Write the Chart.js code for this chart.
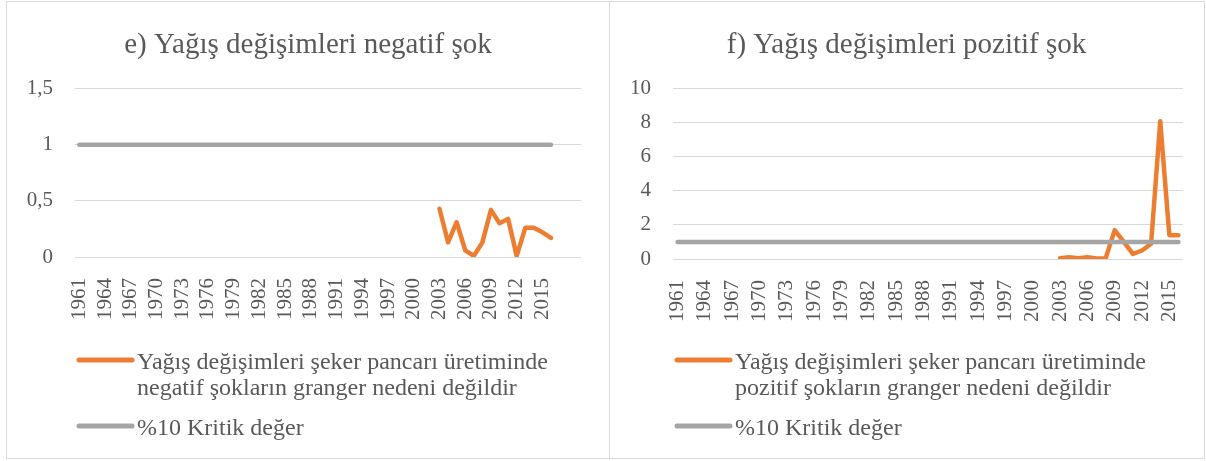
<!DOCTYPE html>
<html lang="tr">
<head>
<meta charset="UTF-8">
<title>Yağış değişimleri şok</title>
<script src="https://cdn.jsdelivr.net/npm/chart.js"></script>
<style>
  body { margin: 0; background: #ffffff; }
  .frame { position: absolute; left: 6px; top: 1px; width: 1197px; height: 456px; border: 1px solid #d9d9d9; }
  .divider { position: absolute; left: 609px; top: 1px; width: 1px; height: 458px; background: #d9d9d9; }
  .panel { position: absolute; top: 2px; height: 456px; }
  #p1 { left: 7px; width: 602px; }
  #p2 { left: 610px; width: 593px; }
</style>
</head>
<body>
<div class="frame"></div>
<div class="divider"></div>
<div class="panel" id="p1"><canvas id="negChart"></canvas></div>
<div class="panel" id="p2"><canvas id="posChart"></canvas></div>

<script>
  // years on the category axis
  const years = ['1961', '1962', '1963', '1964', '1965', '1966', '1967', '1968', '1969', '1970',
    '1971', '1972', '1973', '1974', '1975', '1976', '1977', '1978', '1979', '1980',
    '1981', '1982', '1983', '1984', '1985', '1986', '1987', '1988', '1989', '1990',
    '1991', '1992', '1993', '1994', '1995', '1996', '1997', '1998', '1999', '2000',
    '2001', '2002', '2003', '2004', '2005', '2006', '2007', '2008', '2009', '2010',
    '2011', '2012', '2013', '2014', '2015', '2016'];
  // the left panel has a few empty rows after 2016
  const emptyRows = ['', '', ''];

  // %10 critical value, one per year
  const criticalValue = [1, 1, 1, 1, 1, 1, 1, 1, 1, 1, 1, 1, 1, 1, 1, 1, 1, 1, 1, 1,
    1, 1, 1, 1, 1, 1, 1, 1, 1, 1, 1, 1, 1, 1, 1, 1, 1, 1, 1, 1,
    1, 1, 1, 1, 1, 1, 1, 1, 1, 1, 1, 1, 1, 1, 1, 1];

  // test statistics (only available from 2003)
  const testYears = ['2003', '2004', '2005', '2006', '2007', '2008', '2009', '2010',
    '2011', '2012', '2013', '2014', '2015', '2016'];
  const negShock = [0.43, 0.13, 0.31, 0.06, 0.01, 0.13, 0.42, 0.30, 0.34, 0.01, 0.26, 0.26, 0.22, 0.17];
  const posShock = [0.05, 0.10, 0.05, 0.10, 0.03, 0.03, 1.70, 1.00, 0.30, 0.50, 0.90, 8.10, 1.40, 1.40];

  const negLegend = ['Yağış değişimleri şeker pancarı üretiminde', 'negatif şokların granger nedeni değildir'];
  const posLegend = ['Yağış değişimleri şeker pancarı üretiminde', 'pozitif şokların granger nedeni değildir'];
  const critLegend = ['%10 Kritik değer'];

  const ORANGE = '#ed7d31';
  const GREY = '#a5a5a5';
  const TEXT = '#595959';
  const FONT = '"Liberation Serif", "Times New Roman", serif';

  // legend stacked under the axis, like the Excel one
  const stackedLegend = {
    id: 'stackedLegend',
    afterDraw(chart, args, opts) {
      const ctx = chart.ctx;
      const left = chart.chartArea.left;
      ctx.save();
      ctx.font = opts.size + 'px ' + FONT;
      ctx.textBaseline = 'middle';
      ctx.textAlign = 'left';
      let y = opts.top;
      opts.items.forEach(item => {
        ctx.strokeStyle = item.color;
        ctx.lineWidth = 5;
        ctx.lineCap = 'round';
        ctx.beginPath();
        ctx.moveTo(left + 4, y - 3);
        ctx.lineTo(left + 57, y - 3);
        ctx.stroke();
        ctx.fillStyle = TEXT;
        item.lines.forEach((line, i) => ctx.fillText(line, left + 62, y + i * 26));
        y += opts.gap;
      });
      ctx.restore();
    }
  };

  function makeChart(id, cfg) {
    const labels = cfg.labels;
    return new Chart(document.getElementById(id), {
      type: 'line',
      data: {
        labels,
        datasets: [
          {
            label: cfg.legend.join(' '),
            data: testYears.map((yr, i) => ({ x: yr, y: cfg.values[i] })),
            borderColor: ORANGE,
            backgroundColor: ORANGE,
            borderWidth: 4.5,
            borderCapStyle: 'round',
            borderJoinStyle: 'round',
            pointRadius: 0,
            tension: 0,
            order: 1
          },
          {
            label: critLegend[0],
            data: years.map((yr, i) => ({ x: yr, y: criticalValue[i] })),
            borderColor: GREY,
            backgroundColor: GREY,
            borderWidth: 4.5,
            borderCapStyle: 'round',
            pointRadius: 0,
            order: 0
          }
        ]
      },
      options: {
        responsive: true,
        maintainAspectRatio: false,
        animation: false,
        events: [],
        layout: { padding: { left: 0, right: 0, top: 0, bottom: cfg.padBottom } },
        plugins: {
          legend: { display: false },
          tooltip: { enabled: false },
          title: {
            display: true,
            text: cfg.title,
            color: TEXT,
            font: { family: FONT, size: 29, weight: 'normal' },
            padding: { top: 26, bottom: 26 }
          },
          stackedLegend: {
            top: 361,
            gap: 66,
            size: 24,
            items: [
              { color: ORANGE, lines: cfg.legend },
              { color: GREY, lines: critLegend }
            ]
          }
        },
        scales: {
          x: {
            offset: true,
            grid: { display: false },
            border: { display: false },
            ticks: {
              autoSkip: false,
              minRotation: 90,
              maxRotation: 90,
              padding: 13,
              color: TEXT,
              font: { family: FONT, size: 21 },
              callback(v, i) { return i % 3 === 0 ? this.getLabelForValue(v) : ''; }
            },
            afterFit(scale) {
              scale.height = 70;
              scale.paddingLeft = 0;
              scale.paddingRight = cfg.padRight;
            }
          },
          y: {
            min: 0,
            max: cfg.max,
            grid: { color: '#d9d9d9', lineWidth: 1, drawTicks: false },
            border: { display: false },
            ticks: {
              stepSize: cfg.step,
              padding: 22,
              color: TEXT,
              font: { family: FONT, size: 21 },
              callback: v => String(v).replace('.', ',')
            },
            afterFit(scale) { scale.width = cfg.axisWidth; }
          }
        }
      },
      plugins: [stackedLegend]
    });
  }

  makeChart('negChart', {
    title: 'e) Yağış değişimleri negatif şok',
    labels: years.concat(emptyRows),
    values: negShock,
    legend: negLegend,
    max: 1.5,
    step: 0.5,
    axisWidth: 68,
    padRight: 28,
    padBottom: 131
  });

  makeChart('posChart', {
    title: 'f) Yağış değişimleri pozitif şok',
    labels: years,
    values: posShock,
    legend: posLegend,
    max: 10,
    step: 2,
    axisWidth: 63,
    padRight: 20,
    padBottom: 129
  });
</script>
</body>
</html>
